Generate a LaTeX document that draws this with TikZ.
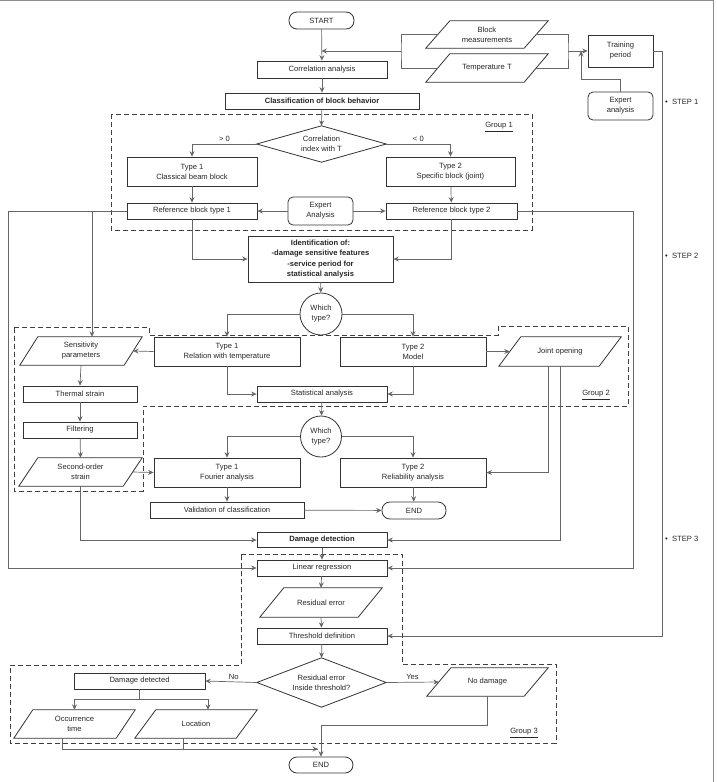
\documentclass[tikz,border=0pt]{standalone}
\usepackage{fontspec}
\setmainfont{Liberation Sans}
\usetikzlibrary{arrows.meta,calc,shapes.geometric}
\tikzset{
  base/.style={font=\fontsize{7.6}{10}\selectfont, text=black!85, align=center, inner sep=1pt},
  boldtxt/.style={font=\fontsize{7.6}{10.5}\selectfont\bfseries},
  boxline/.style={draw=black!80, line width=0.8pt},
  box/.style={base, boxline, rectangle},
  rbox/.style={base, boxline, rectangle, rounded corners=5pt},
  term/.style={base, boxline, rectangle, rounded corners=8pt},
  circ/.style={base, boxline, circle, inner sep=0pt},
  conn/.style={draw=black!60, line width=0.7pt},
  arr/.style={conn, -{Stealth[length=5.5pt,width=5pt,inset=2pt]}},
  grp/.style={draw=black!75, line width=1pt, dash pattern=on 5pt off 3pt},
  lbl/.style={base, inner sep=0pt},
}
\newcommand\pgram[6]{%
  \node[base, minimum width=#3pt, minimum height=#4pt] (#1) at (#2) {#6};
  \draw[boxline] ($(#1.south west)+(-#5/2,0)$) -- ($(#1.north west)+(#5/2,0)$)
     -- ($(#1.north east)+(#5/2,0)$) -- ($(#1.south east)+(-#5/2,0)$) -- cycle;}
\newcommand\dmd[5]{%
  \node[base, minimum width=#3pt, minimum height=#4pt] (#1) at (#2) {#5};
  \draw[boxline] (#1.west) -- (#1.north) -- (#1.east) -- (#1.south) -- cycle;}
\begin{document}
\begin{tikzpicture}[x=1pt,y=-1pt]
\useasboundingbox (0,0) rectangle (716,782);
\draw[draw=black!45, line width=0.8pt] (0,0.5) -- (713,0.5) -- (713,782);

% ---- groups
\draw[grp] (111,114) rectangle (532,230);
\draw[grp] (14,327) -- (149,327) -- (149,335) -- (498,335) -- (498,326) -- (628,326)
   -- (628,406) -- (143,406) -- (143,491) -- (14,491) -- cycle;
\draw[grp] (241,554) -- (402,554) -- (402,664) -- (556,664) -- (556,743) -- (10,743)
   -- (10,665) -- (241,665) -- cycle;
\node[lbl] (g1) at (499,127) {\underline{Group 1}};
\node[lbl] (g2) at (596,395) {\underline{Group 2}};
\node[lbl] (g3) at (524,733) {\underline{Group 3}};

% ---- step 1
\node[term, minimum width=65pt, minimum height=17pt] (start) at (321.5,20.5) {START};
\pgram{bm}{487,34.5}{98}{27}{24}{Block\\measurements}
\pgram{tt}{487,68}{98}{28}{24}{Temperature T}
\node[box, minimum width=65pt, minimum height=32pt] (train) at (620.5,51) {Training\\period};
\node[rbox, minimum width=65pt, minimum height=28pt] (exp1) at (620.5,106) {Expert\\analysis};
\node[box, minimum width=130pt, minimum height=17pt] (corr) at (322,69.5) {Correlation analysis};
\node[box, boldtxt, minimum width=194pt, minimum height=16pt] (cls) at (322,101) {Classification of block behavior};
\dmd{cidx}{321.5,144}{129}{36}{Correlation\\index with T}
\node[box, minimum width=130pt, minimum height=29pt] (t1) at (192,171.5) {Type 1\\Classical beam block};
\node[box, minimum width=129pt, minimum height=29pt] (t2) at (450.5,171.5) {Type 2\\Specific block (joint)};
\node[box, minimum width=130pt, minimum height=16pt] (ref1) at (192,211) {Reference block type 1};
\node[box, minimum width=131pt, minimum height=16pt] (ref2) at (451.5,211) {Reference block type 2};
\node[rbox, minimum width=65pt, minimum height=28pt] (exp2) at (320.5,211) {Expert\\Analysis};

% ---- step 2
\node[box, boldtxt, minimum width=145pt, minimum height=46pt] (ident) at (320.5,259)
  {Identification of:\\-damage sensitive features\\-service period for\\statistical analysis};
\node[circ, minimum size=42pt] (w1) at (321,314) {Which\\type?};
\node[box, minimum width=146pt, minimum height=29pt] (rel) at (227,351.5) {Type 1\\Relation with temperature};
\node[box, minimum width=146pt, minimum height=29pt] (mod) at (413,351.5) {Type 2\\Model};
\pgram{sens}{81,351}{104}{28}{18}{Sensitivity\\parameters}
\pgram{joint}{560,351.5}{100}{29}{22}{Joint opening}
\node[box, minimum width=114pt, minimum height=16pt] (therm) at (80,394) {Thermal strain};
\node[box, minimum width=130pt, minimum height=16pt] (stat) at (322,394) {Statistical analysis};
\node[box, minimum width=114pt, minimum height=16pt] (filt) at (80,430) {Filtering};
\pgram{sec}{80.5,472}{104}{28}{19}{Second-order\\strain}
\node[circ, minimum size=41pt] (w2) at (321,436.5) {Which\\type?};
\node[box, minimum width=146pt, minimum height=29pt] (four) at (227,472.5) {Type 1\\Fourier analysis};
\node[box, minimum width=146pt, minimum height=29pt] (reli) at (413,472.5) {Type 2\\Reliability analysis};
\node[box, minimum width=154pt, minimum height=16pt] (valid) at (227,510) {Validation of classification};
\node[term, minimum width=64pt, minimum height=17pt] (end1) at (414,510.5) {END};

% ---- step 3
\node[box, boldtxt, minimum width=130pt, minimum height=15pt] (ddet) at (322,540) {Damage detection};
\node[box, minimum width=130pt, minimum height=16pt] (lin) at (322,568) {Linear regression};
\pgram{res}{321,602.5}{98}{29}{24}{Residual error}
\node[box, minimum width=130pt, minimum height=16pt] (thr) at (322,636) {Threshold definition};
\dmd{dec}{321.5,682.5}{129}{49}{Residual error\\Inside threshold?}
\node[box, minimum width=131pt, minimum height=16pt] (dmg) at (139.5,681) {Damage detected};
\pgram{nod}{487.5,682}{97}{28}{24}{No damage}
\pgram{occ}{74.5,724}{102}{28}{19}{Occurrence\\time}
\pgram{loc}{196,724}{101}{28}{21}{Location}
\node[term, minimum width=64pt, minimum height=16pt] (end2) at (321,765) {END};

% ---- step labels
\node[lbl, anchor=west] (s1) at (665,102) {\textbullet\ \ STEP 1};
\node[lbl, anchor=west] (s2) at (665,256) {\textbullet\ \ STEP 2};
\node[lbl, anchor=west] (s3) at (665,539) {\textbullet\ \ STEP 3};

% ---- connectors step 1
\coordinate (fl) at (401,51);
\coordinate (fr) at (568,51);
\coordinate (tin) at (581,51);
\coordinate (fin) at (start.south |- fl);
\draw[arr] (start) -- (corr);
\draw[conn] (bm.west) -| (fl) |- (tt.west);
\draw[arr] (fl) -- (fin);
\draw[conn] (bm.east) -| (fr) |- (tt.east);
\draw[arr] (fr) -- (train.west);
\draw[arr] (exp1.north) |- ($(tin)+(0,28)$) -- (tin);
\draw[arr] (train.east) -- ++(8.5,0) |- (thr.east);
\draw[arr] (corr) -- (cls);
\draw[arr] (cls) -- (cidx.north);
\draw[arr] (cidx.west) -| node[lbl, pos=0.25, above=2pt] {> 0} (t1.north);
\draw[arr] (cidx.east) -| node[lbl, pos=0.25, above=2pt] {< 0} (t2.north);
\draw[arr] (t1) -- (ref1);
\draw[arr] (t2) -- (ref2);
\draw[arr] (exp2.west) -- (ref1.east);
\draw[arr] (exp2.east) -- (ref2.west);

% ---- connectors step 2
\coordinate (j92) at (92,211);
\draw[arr] (ref1.south) |- (ident.west);
\draw[arr] (ref2.south) |- (ident.east);
\draw[arr] (ref1.west) -- (8,211) |- (lin.west);
\draw[arr] (j92) -- (j92 |- sens.north);
\draw[arr] (ref2.east) -- (633,211) |- (lin.east);
\draw[arr] (ident) -- (w1);
\draw[arr] (w1.west) -| (rel.north);
\draw[arr] (w1.east) -| (mod.north);
\draw[arr] (rel.west) -- (sens.east);
\draw[arr] (sens.south) -- (therm.north);
\draw[arr] (therm) -- (filt);
\draw[arr] (filt) -- (sec.north);
\draw[arr] (rel.south) |- (stat.west);
\draw[arr] (mod.south) |- (stat.east);
\draw[arr] (mod.east) -- (joint.west);
\draw[arr] ($(joint.south)+(-12,0)$) |- (reli.east);
\draw[arr] (joint.south) |- (ddet.east);
\draw[arr] (stat) -- (w2);
\draw[arr] (w2.west) -| (four.north);
\draw[arr] (w2.east) -| (reli.north);
\draw[arr] (sec.east) -- (four.west);
\draw[arr] (four) -- (valid);
\draw[arr] (valid) -- (end1);
\draw[arr] (reli) -- (end1);
\draw[arr] (sec.south) |- (ddet.west);

% ---- connectors step 3
\draw[arr] (ddet) -- (lin);
\draw[arr] (lin) -- (res.north);
\draw[arr] (res.south) -- (thr);
\draw[arr] (thr) -- (dec.north);
\draw[arr] (dec.west) -- node[lbl, above=2pt, pos=0.45] {No} (dmg.east);
\draw[arr] (dec.east) -- node[lbl, above=2pt, pos=0.5] {Yes} (nod.west);
\coordinate (split) at ($(dmg.south)+(0,10)$);
\draw[conn] (dmg.south) -- (split);
\draw[arr] (split) -| (occ.north);
\draw[arr] (split) -| ($(loc.north)+(12,0)$);
\coordinate (mrg) at (318,749);
\draw[arr] ($(occ.south)+(-12,0)$) |- (mrg);
\draw[conn] ($(loc.south)+(-13,0)$) |- (mrg);
\draw[arr] (nod.south) |- ($(end2.north)+(0,-31)$) -- (end2.north);
\end{tikzpicture}
\end{document}
